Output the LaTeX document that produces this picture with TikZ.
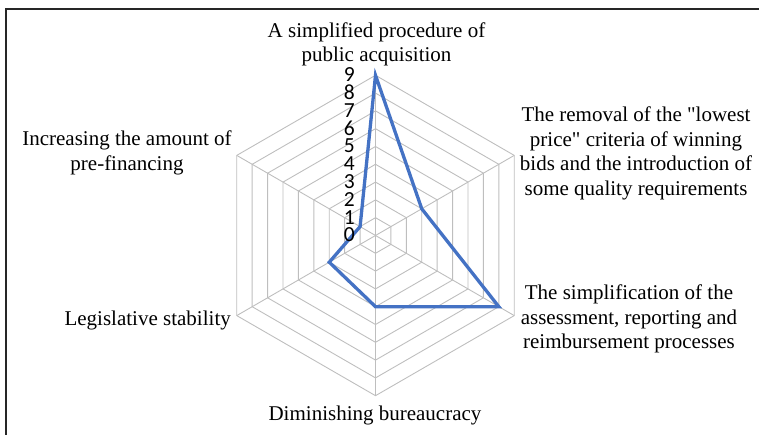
\documentclass[tikz,border=0pt]{standalone}
\usepackage{fontspec}
\usetikzlibrary{calc}
\setmainfont{Liberation Serif}[Ligatures=TeXOff]
\newfontfamily\numfont{Carlito}
\definecolor{gridgray}{RGB}{190,190,190}
\definecolor{seriesblue}{RGB}{68,114,196}
\tikzset{
  lbl/.style={align=center, inner sep=0pt, font=\fontsize{21}{24.5}\selectfont},
  ticks/.style={align=right, inner sep=0pt, font=\numfont\fontsize{21.5}{17.8}\selectfont},
  gridline/.style={draw=gridgray, line width=0.9pt},
  series/.style={draw=seriesblue, line width=3.3pt, line join=miter},
  frameline/.style={draw=black!85, line width=1.2pt}
}
\begin{document}
\begin{tikzpicture}[x=1pt,y=1pt]
\useasboundingbox (0,0) rectangle (759,435);
\coordinate (C) at (375.5,199.5);
\def\u{17.8}
% grid rings
\foreach \k in {1,...,9}{
  \draw[gridline] ($(C)+(90:\k*\u)$) -- ($(C)+(30:\k*\u)$) -- ($(C)+(-30:\k*\u)$) -- ($(C)+(-90:\k*\u)$) -- ($(C)+(-150:\k*\u)$) -- ($(C)+(150:\k*\u)$) -- cycle;
}
% spokes
\foreach \a [count=\i] in {90,30,-30,-90,-150,150}{
  \coordinate (o\i) at ($(C)+(\a:9*\u)$);
  \draw[gridline] (C) -- (o\i);
}
% data points
\coordinate (d1) at ($(C)+(90:9*\u)$);
\coordinate (d2) at ($(C)+(30:3*\u)$);
\coordinate (d3) at ($(C)+(-30:8*\u)$);
\coordinate (d4) at ($(C)+(-90:4*\u)$);
\coordinate (d5) at ($(C)+(-150:3*\u)$);
\coordinate (d6) at ($(C)+(150:1*\u)$);
\draw[series] (d1) -- (d2) -- (d3) -- (d4) -- (d5) -- (d6) -- cycle;
% tick labels
\node[ticks, anchor=south east] (ticks) at (355,192.7) {9\\8\\7\\6\\5\\4\\3\\2\\1\\0};
% axis labels
\node[lbl] (l1) at (376.5,390.5) {A simplified procedure of\\public acquisition};
\node[lbl] (l2) at (636,281.5) {The removal of the "lowest\\price" criteria of winning\\bids and the introduction of\\some quality requirements};
\node[lbl] (l3) at (629,116) {The simplification of the\\assessment, reporting and\\reimbursement processes};
\node[lbl] (l4) at (375,20) {Diminishing bureaucracy};
\node[lbl, anchor=east] (l5) at (231,115) {Legislative stability};
\node[lbl] (l6) at (127,282) {Increasing the amount of\\pre-financing};
% frame
\draw[frameline] (6,0) -- (6,426) -- (759,426);
\end{tikzpicture}
\end{document}
